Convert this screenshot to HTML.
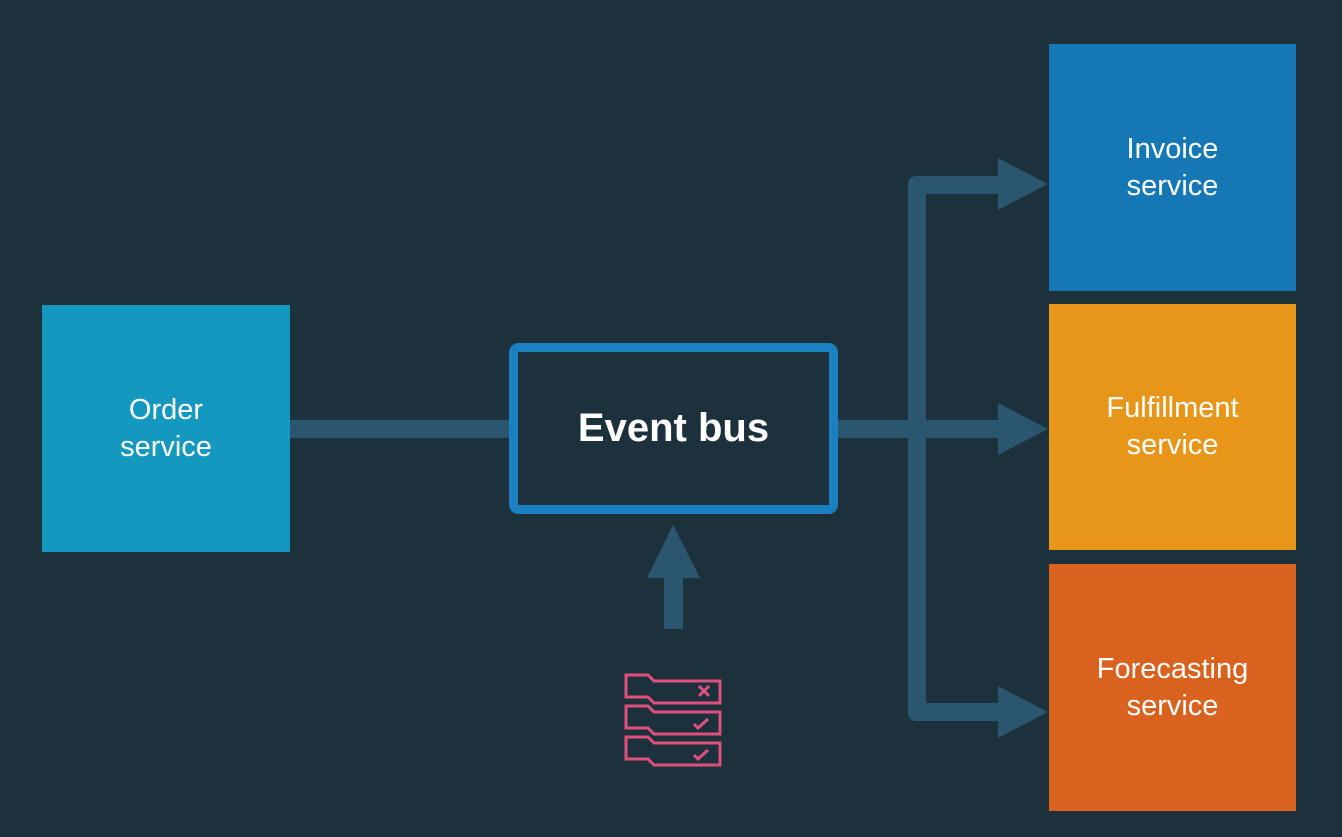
<!DOCTYPE html>
<html><head><style>
body{margin:0;width:1342px;height:837px;background:#1c313c;overflow:hidden;font-family:"Liberation Sans",sans-serif}
.b{position:absolute;display:flex;align-items:center;justify-content:center;text-align:center;color:#fff;font-size:29px;line-height:37px}
</style></head><body>
<svg width="1342" height="837" style="position:absolute;left:0;top:0">
<g fill="#2b5670" stroke="none">
<rect x="290" y="420" width="222" height="18"/>
<rect x="836" y="420" width="166" height="18"/>
<polygon points="998,403 1048,429 998,455"/>
<path d="M908,185 q0,-9 9,-9 H1002 V194 H926 V703 H1002 V721 H917 q-9,0 -9,-9 Z"/>
<polygon points="998,158 1048,184 998,210"/>
<polygon points="998,686 1048,712 998,738"/>
<rect x="664" y="575" width="19" height="54"/>
<polygon points="647,578 673,525 700,578"/>
</g>
<rect x="513.5" y="347.5" width="320" height="162" rx="5" fill="#1c313c" stroke="#1a80c2" stroke-width="9"/>
<g fill="none" stroke="#e0507e" stroke-width="3">
<path d="M626,675 H648 L654,681 H720 V703 H654 L648,697 H626 Z"/>
<path d="M626,706 H648 L654,712 H720 V734 H654 L648,728 H626 Z"/>
<path d="M626,737 H648 L654,743 H720 V765 H654 L648,759 H626 Z"/>
<path d="M699,686 l10,10 M709,686 l-10,10"/>
<path d="M694,724 l4,4 l10,-9"/>
<path d="M694,755 l4,4 l10,-9"/>
</g>
</svg>
<div class="b" style="left:42px;top:305px;width:248px;height:247px;background:#1498bf">Order<br>service</div>
<div class="b" style="left:518px;top:352px;width:311px;height:153px;font-size:40px;font-weight:bold">Event bus</div>
<div class="b" style="left:1049px;top:44px;width:247px;height:247px;background:#1578b4">Invoice<br>service</div>
<div class="b" style="left:1049px;top:304px;width:247px;height:246px;background:#e8961a">Fulfillment<br>service</div>
<div class="b" style="left:1049px;top:564px;width:247px;height:247px;background:#d8621e">Forecasting<br>service</div>
</body></html>
